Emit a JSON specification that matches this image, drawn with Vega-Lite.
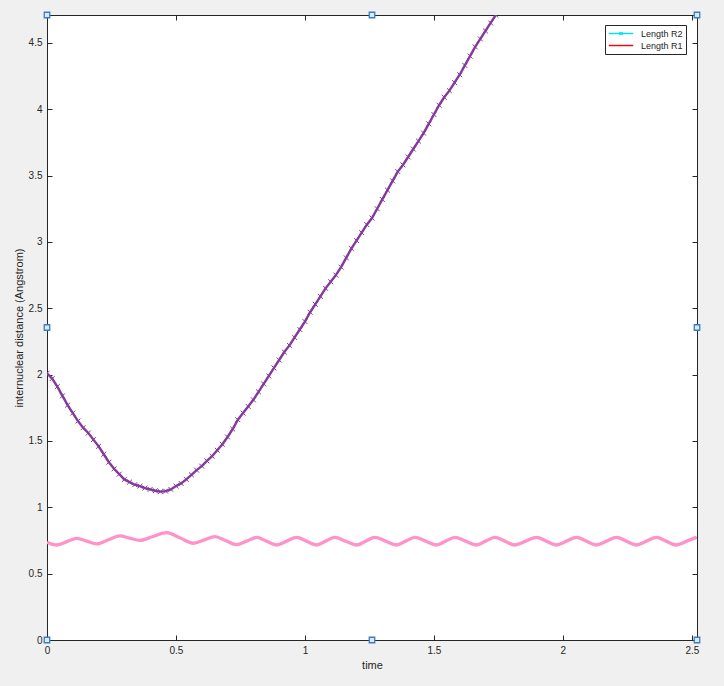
{
  "$schema": "https://vega.github.io/schema/vega-lite/v6.json",
  "width": 650,
  "height": 625,
  "autosize": {"type": "none"},
  "padding": {"left": 47, "top": 15, "right": 27, "bottom": 46},
  "background": "#f0f0f0",
  "config": {
    "view": {"fill": "white", "stroke": "#262626", "strokeWidth": 1},
    "font": "Liberation Sans",
    "axis": {
      "grid": false,
      "domainColor": "#262626",
      "tickColor": "#262626",
      "labelColor": "#262626",
      "titleColor": "#262626",
      "labelFont": "Liberation Sans",
      "titleFont": "Liberation Sans",
      "labelFontSize": 10,
      "titleFontSize": 11,
      "titleFontWeight": "normal",
      "tickSize": -5,
      "labelPadding": 10,
      "labelFlush": false
    }
  },
  "resolve": {"axis": {"x": "independent", "y": "independent"}},
  "datasets": {
    "r2": [
      {"t": 0, "d": 2.01}, {"t": 0.02, "d": 1.97}, {"t": 0.04, "d": 1.91}, {"t": 0.06, "d": 1.84},
      {"t": 0.08, "d": 1.77}, {"t": 0.10, "d": 1.71}, {"t": 0.12, "d": 1.65}, {"t": 0.14, "d": 1.60},
      {"t": 0.16, "d": 1.56}, {"t": 0.18, "d": 1.51}, {"t": 0.20, "d": 1.46}, {"t": 0.22, "d": 1.40},
      {"t": 0.24, "d": 1.34}, {"t": 0.26, "d": 1.29}, {"t": 0.28, "d": 1.25}, {"t": 0.30, "d": 1.21},
      {"t": 0.32, "d": 1.19}, {"t": 0.34, "d": 1.17}, {"t": 0.36, "d": 1.16}, {"t": 0.38, "d": 1.145},
      {"t": 0.40, "d": 1.135}, {"t": 0.42, "d": 1.125}, {"t": 0.44, "d": 1.118}, {"t": 0.46, "d": 1.122},
      {"t": 0.48, "d": 1.135}, {"t": 0.50, "d": 1.16}, {"t": 0.52, "d": 1.18}, {"t": 0.54, "d": 1.21},
      {"t": 0.56, "d": 1.245}, {"t": 0.58, "d": 1.28}, {"t": 0.60, "d": 1.31}, {"t": 0.62, "d": 1.35},
      {"t": 0.64, "d": 1.385}, {"t": 0.66, "d": 1.43}, {"t": 0.68, "d": 1.475}, {"t": 0.70, "d": 1.53},
      {"t": 0.72, "d": 1.59}, {"t": 0.74, "d": 1.66}, {"t": 0.76, "d": 1.71}, {"t": 0.78, "d": 1.76},
      {"t": 0.80, "d": 1.81}, {"t": 0.82, "d": 1.87}, {"t": 0.84, "d": 1.93}, {"t": 0.86, "d": 1.99},
      {"t": 0.88, "d": 2.05}, {"t": 0.90, "d": 2.11}, {"t": 0.92, "d": 2.17}, {"t": 0.94, "d": 2.22},
      {"t": 0.96, "d": 2.28}, {"t": 0.98, "d": 2.34}, {"t": 1.00, "d": 2.40}, {"t": 1.02, "d": 2.47},
      {"t": 1.04, "d": 2.53}, {"t": 1.06, "d": 2.59}, {"t": 1.08, "d": 2.65}, {"t": 1.10, "d": 2.70},
      {"t": 1.12, "d": 2.75}, {"t": 1.14, "d": 2.81}, {"t": 1.16, "d": 2.88}, {"t": 1.18, "d": 2.95},
      {"t": 1.20, "d": 3.01}, {"t": 1.22, "d": 3.07}, {"t": 1.24, "d": 3.13}, {"t": 1.26, "d": 3.18},
      {"t": 1.28, "d": 3.25}, {"t": 1.30, "d": 3.32}, {"t": 1.32, "d": 3.39}, {"t": 1.34, "d": 3.46},
      {"t": 1.36, "d": 3.53}, {"t": 1.38, "d": 3.58}, {"t": 1.40, "d": 3.64}, {"t": 1.42, "d": 3.70},
      {"t": 1.44, "d": 3.76}, {"t": 1.46, "d": 3.82}, {"t": 1.48, "d": 3.89}, {"t": 1.50, "d": 3.96},
      {"t": 1.52, "d": 4.03}, {"t": 1.54, "d": 4.09}, {"t": 1.56, "d": 4.14}, {"t": 1.58, "d": 4.20},
      {"t": 1.60, "d": 4.26}, {"t": 1.62, "d": 4.33}, {"t": 1.64, "d": 4.40}, {"t": 1.66, "d": 4.47},
      {"t": 1.68, "d": 4.53}, {"t": 1.70, "d": 4.59}, {"t": 1.72, "d": 4.65}, {"t": 1.74, "d": 4.71}
    ],
    "r1": [
      {"t": 0, "d": 0.737}, {"t": 0.038, "d": 0.716}, {"t": 0.077, "d": 0.741}, {"t": 0.115, "d": 0.766},
      {"t": 0.154, "d": 0.745}, {"t": 0.193, "d": 0.724}, {"t": 0.238, "d": 0.755}, {"t": 0.283, "d": 0.784},
      {"t": 0.32, "d": 0.768}, {"t": 0.36, "d": 0.751}, {"t": 0.41, "d": 0.78}, {"t": 0.464, "d": 0.809},
      {"t": 0.515, "d": 0.77}, {"t": 0.567, "d": 0.729}, {"t": 0.61, "d": 0.754}, {"t": 0.651, "d": 0.779},
      {"t": 0.693, "d": 0.749}, {"t": 0.735, "d": 0.718}, {"t": 0.774, "d": 0.745}, {"t": 0.813, "d": 0.773},
      {"t": 0.851, "d": 0.745}, {"t": 0.89, "d": 0.716}, {"t": 0.929, "d": 0.745}, {"t": 0.968, "d": 0.774},
      {"t": 1.006, "d": 0.745}, {"t": 1.045, "d": 0.716}, {"t": 1.08, "d": 0.745}, {"t": 1.116, "d": 0.773},
      {"t": 1.158, "d": 0.745}, {"t": 1.2, "d": 0.716}, {"t": 1.236, "d": 0.745}, {"t": 1.271, "d": 0.774},
      {"t": 1.313, "d": 0.745}, {"t": 1.355, "d": 0.716}, {"t": 1.39, "d": 0.745}, {"t": 1.426, "d": 0.774},
      {"t": 1.468, "d": 0.745}, {"t": 1.51, "d": 0.716}, {"t": 1.545, "d": 0.745}, {"t": 1.581, "d": 0.774},
      {"t": 1.623, "d": 0.745}, {"t": 1.665, "d": 0.716}, {"t": 1.70, "d": 0.745}, {"t": 1.736, "d": 0.774},
      {"t": 1.775, "d": 0.745}, {"t": 1.814, "d": 0.716}, {"t": 1.856, "d": 0.745}, {"t": 1.898, "d": 0.774},
      {"t": 1.936, "d": 0.745}, {"t": 1.975, "d": 0.716}, {"t": 2.014, "d": 0.745}, {"t": 2.053, "d": 0.774},
      {"t": 2.091, "d": 0.745}, {"t": 2.13, "d": 0.716}, {"t": 2.169, "d": 0.745}, {"t": 2.208, "d": 0.774},
      {"t": 2.246, "d": 0.745}, {"t": 2.285, "d": 0.716}, {"t": 2.324, "d": 0.745}, {"t": 2.363, "d": 0.774},
      {"t": 2.40, "d": 0.745}, {"t": 2.44, "d": 0.716}, {"t": 2.48, "d": 0.745}, {"t": 2.518, "d": 0.774}
    ],
    "handles": [
      {"hx": 0, "hy": 0}, {"hx": 1.26, "hy": 0}, {"hx": 2.52, "hy": 0},
      {"hx": 0, "hy": 4.71}, {"hx": 1.26, "hy": 4.71}, {"hx": 2.52, "hy": 4.71},
      {"hx": 0, "hy": 2.355}, {"hx": 2.52, "hy": 2.355}
    ]
  },
  "layer": [
    {
      "data": {"name": "r2"},
      "transform": [{"calculate": "'Length R2'", "as": "series"}],
      "mark": {"type": "line", "strokeWidth": 1, "clip": true},
      "encoding": {
        "x": {"field": "t", "type": "quantitative", "scale": {"domain": [0, 2.52], "nice": false, "zero": false},
              "axis": {"orient": "bottom", "title": "time", "values": [0, 0.5, 1, 1.5, 2, 2.5], "format": "~g", "titlePadding": 4}},
        "y": {"field": "d", "type": "quantitative", "scale": {"domain": [0, 4.71], "nice": false, "zero": false},
              "axis": {"orient": "left", "title": "internuclear distance (Angstrom)", "values": [0, 0.5, 1, 1.5, 2, 2.5, 3, 3.5, 4, 4.5], "format": "~g", "titlePadding": 4}},
        "color": {"field": "series", "type": "nominal",
          "scale": {"domain": ["Length R2", "Length R1"], "range": ["#00e5f0", "#e01010"]},
          "legend": {
            "title": null, "orient": "none", "legendX": 558, "legendY": 10,
            "fillColor": "white", "strokeColor": "#262626", "padding": 3,
            "symbolType": "stroke", "symbolSize": 600, "symbolStrokeWidth": 1.3,
            "clipHeight": 11,
            "labelFont": "Liberation Sans", "labelFontSize": 9, "labelColor": "#262626",
            "rowPadding": 1, "labelOffset": 7,
            "encode": {"symbols": {"update": {
              "shape": [
                {"test": "datum.label === 'Length R2'", "value": "M-1,0L1,0M-0.12,-0.12L0.12,0.12M0.12,-0.12L-0.12,0.12"},
                {"value": "M-1,0L1,0M-0.04,0L0.04,0"}
              ]
            }}}
          }}
      }
    },
    {
      "data": {"name": "r2"},
      "mark": {"type": "line", "color": "#86399c", "strokeWidth": 2.4, "clip": true},
      "encoding": {"x": {"field": "t", "type": "quantitative", "axis": null}, "y": {"field": "d", "type": "quantitative", "axis": null}}
    },
    {
      "data": {"name": "r2"},
      "mark": {"type": "point", "shape": "M-1,-1L1,1M1,-1L-1,1", "size": 24, "stroke": "#86399c", "strokeWidth": 1, "filled": false, "opacity": 1, "clip": true},
      "encoding": {"x": {"field": "t", "type": "quantitative", "axis": null}, "y": {"field": "d", "type": "quantitative", "axis": null}}
    },
    {
      "data": {"name": "r1"},
      "transform": [{"calculate": "'Length R1'", "as": "series"}],
      "mark": {"type": "line", "strokeWidth": 1, "interpolate": "monotone", "clip": true},
      "encoding": {"x": {"field": "t", "type": "quantitative", "axis": null}, "y": {"field": "d", "type": "quantitative", "axis": null},
                   "color": {"field": "series", "type": "nominal"}}
    },
    {
      "data": {"name": "r1"},
      "mark": {"type": "line", "color": "#ff92c9", "strokeWidth": 3.3, "interpolate": "monotone", "clip": true},
      "encoding": {"x": {"field": "t", "type": "quantitative", "axis": null}, "y": {"field": "d", "type": "quantitative", "axis": null}}
    },
    {
      "data": {"name": "handles"},
      "mark": {"type": "point", "shape": "square", "size": 30, "filled": true, "fill": "#dce9f6", "stroke": "#3b7dc4", "strokeWidth": 1.3, "opacity": 1, "clip": false},
      "encoding": {
        "x": {"field": "hx", "type": "quantitative", "axis": {"orient": "top", "labels": false, "title": null, "domain": false, "values": [0.5, 1, 1.5, 2, 2.5]}},
        "y": {"field": "hy", "type": "quantitative", "axis": {"orient": "right", "labels": false, "title": null, "domain": false, "values": [0.5, 1, 1.5, 2, 2.5, 3, 3.5, 4, 4.5]}}
      }
    }
  ]
}
